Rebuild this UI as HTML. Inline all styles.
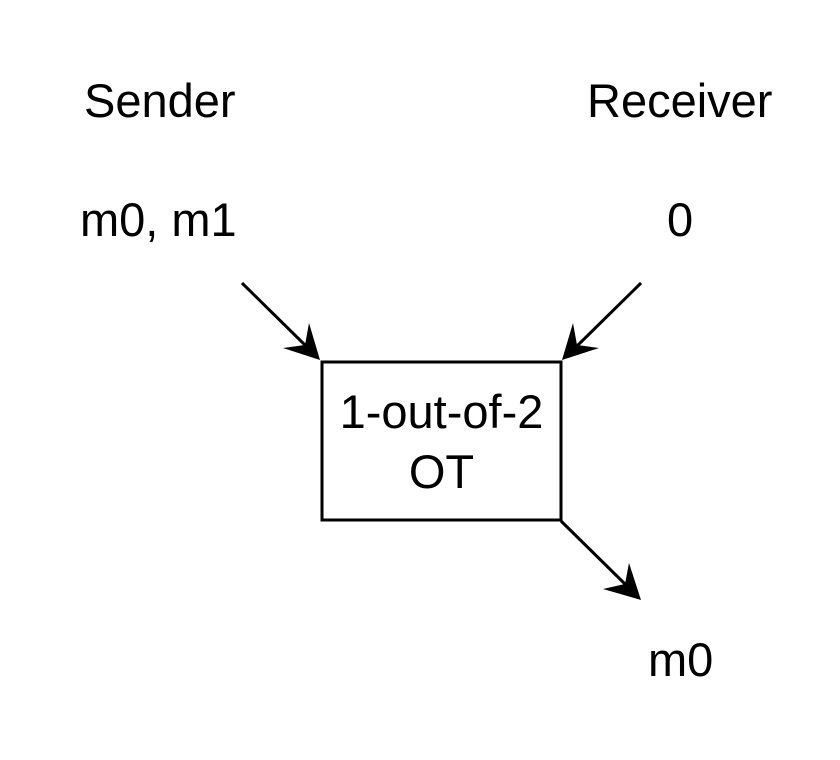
<!DOCTYPE html>
<html><head><style>
html,body{margin:0;padding:0;background:#fff;}
svg{display:block;}
text{font-family:"Liberation Sans",Arial,sans-serif;font-size:47px;fill:#000;}
</style></head><body>
<svg width="840" height="760" viewBox="0 0 840 760" xmlns="http://www.w3.org/2000/svg">
<rect width="840" height="760" fill="#fff"/>
<text x="84" y="117">Sender</text>
<text x="587" y="117">Receiver</text>
<text x="80" y="236">m0, m1</text>
<text x="667" y="236">0</text>
<text x="648" y="676">m0</text>
<rect x="322" y="362" width="239" height="158" fill="#fff" stroke="#000" stroke-width="3"/>
<text x="441.5" y="428" text-anchor="middle">1-out-of-2</text>
<text x="441.5" y="488" text-anchor="middle">OT</text>
<g stroke="#000" stroke-width="3" fill="none">
<line x1="242" y1="283" x2="306" y2="346"/>
<line x1="641" y1="283" x2="577" y2="346"/>
<line x1="561" y1="521" x2="625" y2="584"/>
</g>
<g fill="#000">
<polygon points="320,360 283,348 305,345 309,323"/>
<polygon points="562,360 599,348 577,345 573,323"/>
<polygon points="641,600 603,589 625,584 629,563"/>
</g>
</svg>
</body></html>
